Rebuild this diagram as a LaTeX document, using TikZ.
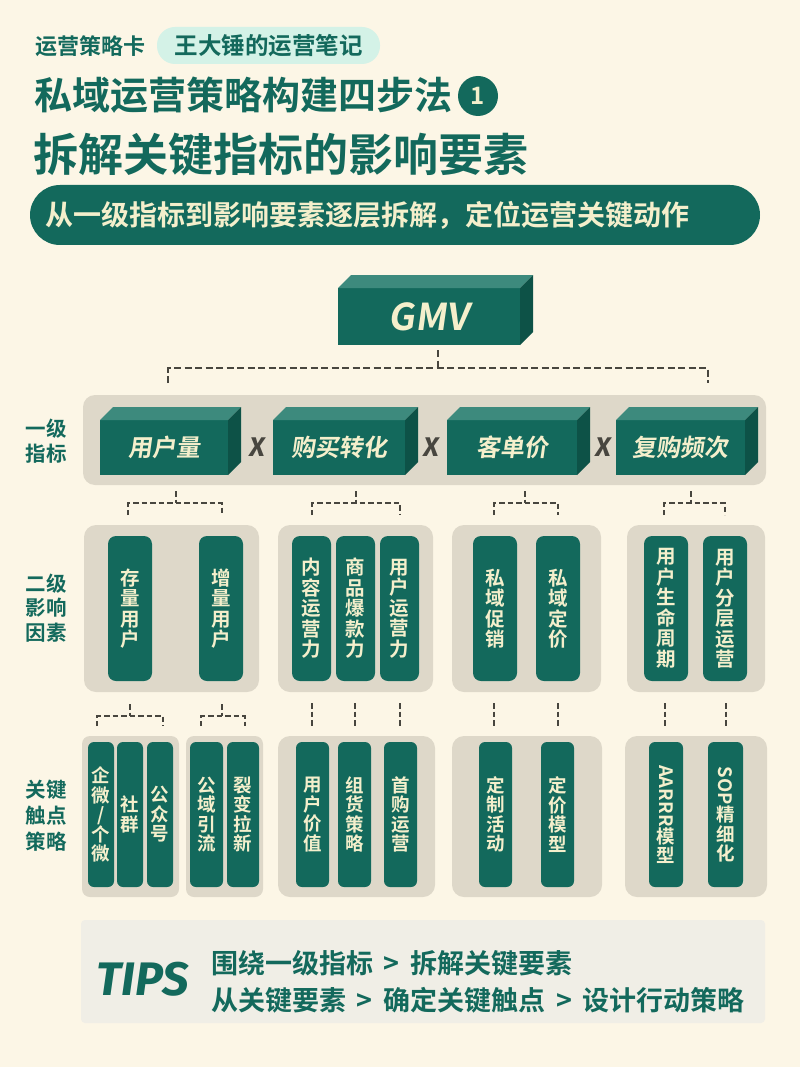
\documentclass[tikz,border=0pt]{standalone}
\usepackage{fontspec}
\usetikzlibrary{calc}
\setmainfont{Noto Sans CJK SC Bold}
\newfontfamily\cjkb{Noto Sans CJK SC Bold}
\newfontfamily\cjksl{Noto Sans CJK SC Bold}[FakeSlant=0.14]
\newfontfamily\tipsf{Fira Sans}
\definecolor{bgc}{HTML}{FCF6E6}
\definecolor{dkg}{HTML}{13695C}
\definecolor{dkgtop}{HTML}{3D8A7D}
\definecolor{dkgside}{HTML}{0D5247}
\definecolor{panelc}{HTML}{DED8C9}
\definecolor{mintc}{HTML}{D4F2E7}
\definecolor{creamc}{HTML}{F4EFCC}
\definecolor{dashc}{HTML}{48463F}
\definecolor{tipsbg}{HTML}{F0EEE6}
\newcommand\fsz[1]{\fontsize{#1}{#1}\selectfont}
\newcommand\dep{13}
\newcommand\boxthree[6]{%
  \node[cubefront, minimum width=#4pt, minimum height=#5pt] (#1) at (#2,#3) {#6};
  \fill[dkgtop] (#1.north west) -- ++(\dep,-\dep) -- ([shift={(\dep,-\dep)}]#1.north east) -- (#1.north east) -- cycle;
  \fill[dkgside] (#1.north east) -- ++(\dep,-\dep) -- ([shift={(\dep,-\dep)}]#1.south east) -- (#1.south east) -- cycle;
}
\newcommand\brk[8]{%
  \coordinate (#1s) at (#2,#3); \coordinate (#1m) at (#2,#4);
  \coordinate (#1l) at (#6,#5); \coordinate (#1r) at (#7,#5);
  \draw[dashline,#8] (#1s) -- (#1m);
  \draw[dashline,#8] (#1l) |- (#1m) -| (#1r);
}
\newcommand\vdashline[2]{%
  \coordinate (#1a) at (#2,703); \coordinate (#1b) at (#2,726);
  \draw[dashline,thin2] (#1a) -- (#1b);
}
\tikzset{
  cubefront/.style={fill=dkg, inner sep=0, outer sep=0, text=creamc},
  panelbox/.style={fill=panelc, rounded corners=12pt, inner sep=0, outer sep=0},
  dashline/.style={draw=dashc, line width=2.8pt, dash pattern=on 7pt off 3.5pt},
  thin2/.style={line width=2.4pt, dash pattern=on 5.5pt off 3pt},
  vp2/.style={fill=dkg, rounded corners=8pt, minimum height=145pt, inner sep=0, outer sep=0, text=creamc, align=center, font=\cjkb\fontsize{19.5}{20.5}\selectfont},
  vp3/.style={fill=dkg, rounded corners=6pt, minimum height=145pt, inner sep=0, outer sep=0, text=creamc, align=center, font=\cjkb\fontsize{18.5}{19.5}\selectfont},
  sidelab/.style={text=dkg, align=center, font=\cjkb\fontsize{20.5}{24.5}\selectfont},
  timesx/.style={text=dashc, font=\tipsf\bfseries\itshape\fsz{27}},
}
\begin{document}
\begin{tikzpicture}[x=1pt,y=-1pt]
\fill[bgc] (0,0) rectangle (800,1067);
\useasboundingbox (0,0) rectangle (800,1067);

% header
\node[anchor=west, inner sep=0, text=dkg, font=\cjkb\fsz{22}] (tag) at (35,46) {运营策略卡};
\node[fill=mintc, rounded corners=18pt, minimum width=223pt, minimum height=37pt, inner sep=0, text=dkg, font=\cjkb\fsz{23.5}] (author) at (268.5,45.5) {王大锤的运营笔记};
\node[anchor=west, inner sep=0, text=dkg, font=\cjkb\fsz{38}] (t1) at (34,95) {私域运营策略构建四步法};
\node[circle, fill=dkg, minimum size=40pt, inner sep=0, text=creamc, font=\cjkb\fsz{24}] (num) at (478,96) {1};
\node[anchor=west, inner sep=0, text=dkg, font=\cjkb\fsz{45}] (t2) at (33,155) {拆解关键指标的影响要素};
\node[fill=dkg, rounded corners=30pt, minimum width=730pt, minimum height=60pt, inner sep=0] (sub) at (395,215) {};
\node[anchor=west, inner sep=0, text=creamc, font=\cjkb\fsz{28}] (subt) at (45,215) {从一级指标到影响要素逐层拆解，定位运营关键动作};

% GMV
\boxthree{gmv}{429}{316.5}{182}{57}{\cjksl\fsz{37}GMV}
\brk{g}{438}{350}{368}{383}{168}{708}{}

% level 1
\node[panelbox, minimum width=683pt, minimum height=90pt] (l1panel) at (424.5,440) {};
\boxthree{u1}{164}{447.5}{128}{55}{\cjksl\fsz{24}用户量}
\boxthree{u2}{339}{447.5}{132}{55}{\cjksl\fsz{24}购买转化}
\boxthree{u3}{512}{447.5}{130}{55}{\cjksl\fsz{24}客单价}
\boxthree{u4}{680.5}{447.5}{129}{55}{\cjksl\fsz{24}复购频次}
\node[timesx] (x1) at (257,447) {X};
\node[timesx] (x2) at (431,447) {X};
\node[timesx] (x3) at (603,447) {X};
\node[sidelab] (lab1) at (46,441) {一级\\指标};

% level 2 brackets
\brk{a}{176}{491}{503}{515}{128}{222}{thin2}
\brk{b}{356}{491}{503}{515}{312}{400}{thin2}
\brk{c}{525}{491}{503}{515}{494}{558}{thin2}
\brk{d}{691}{491}{503}{515}{664}{725}{thin2}

% level 2 panels
\node[panelbox, minimum width=175pt, minimum height=167pt] (pp1) at (171.5,608.5) {};
\node[panelbox, minimum width=155pt, minimum height=167pt] (pp2) at (355.5,608.5) {};
\node[panelbox, minimum width=149pt, minimum height=167pt] (pp3) at (526.5,608.5) {};
\node[panelbox, minimum width=138pt, minimum height=167pt] (pp4) at (696,608.5) {};
\node[vp2, minimum width=44pt] (p11) at (130,608.5) {存\\量\\用\\户};
\node[vp2, minimum width=44pt] (p12) at (221,608.5) {增\\量\\用\\户};
\node[vp2, minimum width=39pt] (p21) at (311.5,608.5) {内\\容\\运\\营\\力};
\node[vp2, minimum width=39pt] (p22) at (355.5,608.5) {商\\品\\爆\\款\\力};
\node[vp2, minimum width=39pt] (p23) at (399.5,608.5) {用\\户\\运\\营\\力};
\node[vp2, minimum width=44pt] (p31) at (495,608.5) {私\\域\\促\\销};
\node[vp2, minimum width=44pt] (p32) at (558,608.5) {私\\域\\定\\价};
\node[vp2, minimum width=44pt] (p41) at (666,608.5) {用\\户\\生\\命\\周\\期};
\node[vp2, minimum width=44pt] (p42) at (725,608.5) {用\\户\\分\\层\\运\\营};
\node[sidelab] (lab2) at (46,608) {二级\\影响\\因素};

% level 3 connectors
\brk{e}{130}{704}{716}{726}{97}{163}{thin2}
\brk{f}{222}{704}{716}{726}{201}{245}{thin2}
\vdashline{v1}{312}
\vdashline{v2}{355}
\vdashline{v3}{400}
\vdashline{v4}{494}
\vdashline{v5}{558}
\vdashline{v6}{665}
\vdashline{v7}{726}

% level 3 panels
\node[panelbox, rounded corners=8pt, minimum width=97pt, minimum height=161pt] (qq1) at (130.5,816.5) {};
\node[panelbox, rounded corners=8pt, minimum width=77pt, minimum height=161pt] (qq2) at (224.5,816.5) {};
\node[panelbox, minimum width=157pt, minimum height=161pt] (qq3) at (356.5,816.5) {};
\node[panelbox, minimum width=150pt, minimum height=161pt] (qq4) at (527,816.5) {};
\node[panelbox, minimum width=142pt, minimum height=161pt] (qq5) at (696,816.5) {};
\node[vp3, minimum width=26pt] (q11) at (101,814.5) {企\\微\\/\\个\\微};
\node[vp3, minimum width=26pt] (q12) at (130,814.5) {社\\群};
\node[vp3, minimum width=26pt] (q13) at (160,814.5) {公\\众\\号};
\node[vp3, minimum width=33pt] (q21) at (206.5,814.5) {公\\域\\引\\流};
\node[vp3, minimum width=32pt] (q22) at (243,814.5) {裂\\变\\拉\\新};
\node[vp3, minimum width=33pt] (q31) at (312.5,814.5) {用\\户\\价\\值};
\node[vp3, minimum width=33pt] (q32) at (354.5,814.5) {组\\货\\策\\略};
\node[vp3, minimum width=33pt] (q33) at (400.5,814.5) {首\\购\\运\\营};
\node[vp3, minimum width=33pt] (q41) at (495.5,814.5) {定\\制\\活\\动};
\node[vp3, minimum width=33pt] (q42) at (557.5,814.5) {定\\价\\模\\型};
\node[vp3, minimum width=34pt] (q51) at (666,814.5) {\rotatebox{-90}{AARRR}\\模\\型};
\node[vp3, minimum width=35pt] (q52) at (725.5,814.5) {\rotatebox{-90}{SOP}\\精\\细\\化};
\node[sidelab, font=\cjkb\fontsize{20.5}{26}\selectfont] (lab3) at (46,816) {关键\\触点\\策略};

% tips
\node[fill=tipsbg, rounded corners=4pt, minimum width=684pt, minimum height=103pt, inner sep=0] (tips) at (423,971.5) {};
\node[text=dkg, inner sep=0, font=\tipsf\bfseries\itshape\fsz{47}] (tipsw) at (142.5,979.5) {TIPS};
\node[anchor=west, inner sep=0, text=dkg, font=\cjkb\fsz{27}] (tl1) at (211,963) {围绕一级指标\ \,>\ \,拆解关键要素};
\node[anchor=west, inner sep=0, text=dkg, font=\cjkb\fsz{27}] (tl2) at (211,1000) {从关键要素\ \,>\ \,确定关键触点\ \,>\ \,设计行动策略};
\end{tikzpicture}
\end{document}
